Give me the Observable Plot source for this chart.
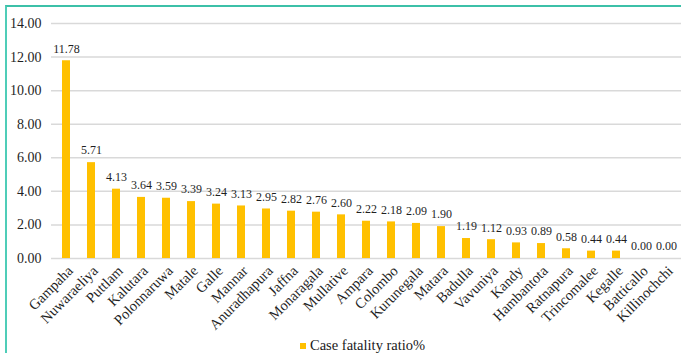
<!DOCTYPE html>
<html>
<head>
<meta charset="utf-8">
<script src="https://cdn.jsdelivr.net/npm/d3@7"></script>
<script src="https://cdn.jsdelivr.net/npm/@observablehq/plot@0.6"></script>
<style>
  html, body { margin: 0; padding: 0; background: #fff; }
  #frame {
    position: absolute; left: 5px; top: 5px; width: 676px; height: 348px;
    border-left: 2px solid #4fcdb8; border-top: 2px solid #3cc0a8;
    box-sizing: border-box;
  }
  #chart { position: absolute; left: 0; top: 0; }
  #chart text { font-family: "Liberation Serif", "Times New Roman", serif; }
  #legend {
    position: absolute; left: 300px; top: 337px;
    font-family: "Liberation Serif", "Times New Roman", serif;
    font-size: 14.5px; color: #1a1a1a; display: flex; align-items: center;
  }
  #legend .sw { width: 6px; height: 6px; background: #FFC000; margin-right: 4px; }
</style>
</head>
<body>
<div id="frame"></div>
<div id="chart"></div>
<div id="legend"><span class="sw"></span><span>Case fatality ratio%</span></div>
<script>
// Districts, ordered by case fatality ratio
const districts = ["Gampaha", "Nuwaraeliya", "Puttlam", "Kalutara", "Polonnaruwa", "Matale",
  "Galle", "Mannar", "Anuradhapura", "Jaffna", "Monaragala", "Mullative", "Ampara", "Colombo",
  "Kurunegala", "Matara", "Badulla", "Vavuniya", "Kandy", "Hambantota", "Ratnapura",
  "Trincomalee", "Kegalle", "Batticallo", "Killinochchi"];
const fatalityRatio = [11.78, 5.71, 4.13, 3.64, 3.59, 3.39, 3.24, 3.13, 2.95, 2.82, 2.76, 2.60,
  2.22, 2.18, 2.09, 1.90, 1.19, 1.12, 0.93, 0.89, 0.58, 0.44, 0.44, 0.00, 0.00];
const yTicks = [0, 2, 4, 6, 8, 10, 12, 14];

const rows = districts.map((d, i) => ({district: d, value: fatalityRatio[i]}));
const fmt = d3.format(".2f");
const serif = "'Liberation Serif', 'Times New Roman', serif";
const ink = "#1f1f1f";

const chart = Plot.plot({
  width: 681,
  height: 336,
  marginLeft: 51,
  marginRight: 0,
  marginTop: 23,
  marginBottom: 78,
  style: {fontFamily: serif, color: ink, background: "transparent"},
  x: {domain: districts, paddingInner: 0.68, paddingOuter: 0.34, axis: null, label: null},
  y: {domain: [0, 14], ticks: yTicks, axis: null, label: null},
  marks: [
    Plot.ruleY(yTicks, {stroke: "#d9d9d9", strokeWidth: 1.5}),
    Plot.axisY(yTicks, {tickSize: 0, tickPadding: 10, tickFormat: fmt, fontSize: 14,
      fontFamily: serif, fill: ink, label: null}),
    Plot.barY(rows, {x: "district", y: "value", fill: "#FFC000"}),
    Plot.text(rows, {x: "district", y: "value", text: d => fmt(d.value), dy: -12,
      fontSize: 12, fontFamily: serif, fill: ink}),
    Plot.text(rows, {x: "district", y: 0, text: "district", rotate: -45, textAnchor: "end",
      dx: 4, dy: 10, fontSize: 14.5, fontFamily: serif, fill: ink})
  ]
});
document.getElementById("chart").appendChild(chart);
</script>
</body>
</html>
